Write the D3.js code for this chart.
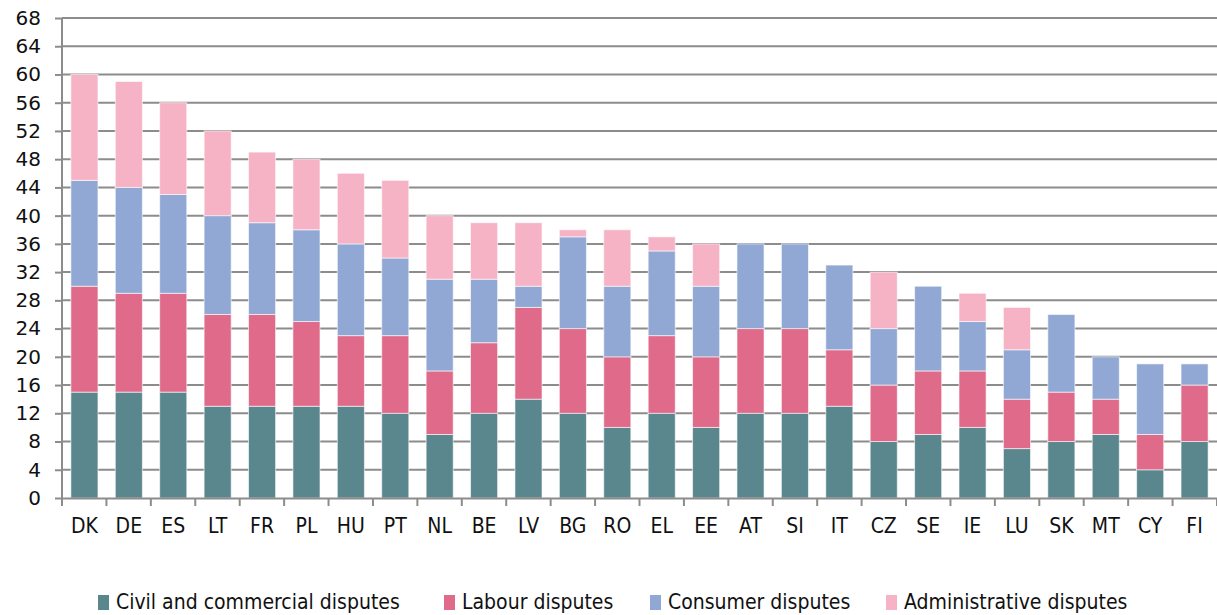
<!DOCTYPE html>
<html>
<head>
<meta charset="utf-8">
<script src="https://cdn.jsdelivr.net/npm/d3@7"></script>
<style>
  body { margin: 0; background: #fff; }
  .tick text { fill: #111; }
  .legend text { font-family: "DejaVu Sans Condensed", "DejaVu Sans", sans-serif; font-size: 21px; fill: #111; }
</style>
</head>
<body>
<div id="chart"></div>
<script>
// data
var countries = ["DK","DE","ES","LT","FR","PL","HU","PT","NL","BE","LV","BG","RO","EL","EE","AT","SI","IT","CZ","SE","IE","LU","SK","MT","CY","FI"];
var civil =          [15,15,15,13,13,13,13,12, 9,12,14,12,10,12,10,12,12,13, 8, 9,10, 7, 8, 9, 4, 8];
var labour =         [15,14,14,13,13,12,10,11, 9,10,13,12,10,11,10,12,12, 8, 8, 9, 8, 7, 7, 5, 5, 8];
var consumer =       [15,15,14,14,13,13,13,11,13, 9, 3,13,10,12,10,12,12,12, 8,12, 7, 7,11, 6,10, 3];
var administrative = [15,15,13,12,10,10,10,11, 9, 8, 9, 1, 8, 2, 6, 0, 0, 0, 8, 0, 4, 6, 0, 0, 0, 0];
var seriesNames = ["Civil and commercial disputes","Labour disputes","Consumer disputes","Administrative disputes"];
var yTicks = d3.range(0, 69, 4);

var svg_w = 1217, svg_h = 615;
var margin = {top: 18, right: 0, bottom: 117, left: 62};
var width = svg_w - margin.left - margin.right;
var height = svg_h - margin.top - margin.bottom;

var rows = countries.map(function(c, i) {
  return {country: c, civil: civil[i], labour: labour[i], consumer: consumer[i], administrative: administrative[i]};
});
var keys = ["civil","labour","consumer","administrative"];
var stacked = d3.stack().keys(keys)(rows);

var svg = d3.select("#chart").append("svg")
  .attr("width", svg_w)
  .attr("height", svg_h);
var g = svg.append("g")
  .attr("transform", "translate(" + margin.left + "," + margin.top + ")");

var xScale = d3.scaleBand().domain(countries).range([0, width]).paddingInner(0.39).paddingOuter(0.2);
var yScale = d3.scaleLinear().domain([0, 68]).range([height, 0]);
var colorScale = d3.scaleOrdinal().domain(keys).range(["#5a878e", "#df6a8a", "#91a8d4", "#f5b3c5"]);

//gridlines
g.append("g")
  .selectAll("line")
  .data(yTicks.slice(1))
  .enter().append("line")
  .attr("x1", 0).attr("x2", width)
  .attr("y1", function(d) { return yScale(d); })
  .attr("y2", function(d) { return yScale(d); })
  .attr("stroke", "#8c8c8c")
  .attr("stroke-width", 2);

//bars
g.selectAll(".layer")
  .data(stacked)
  .enter().append("g")
  .attr("fill", function(d) { return colorScale(d.key); })
  .selectAll("rect")
  .data(function(d) { return d.filter(function(p) { return p[1] > p[0]; }); })
  .enter().append("rect")
  .attr("x", function(d) { return xScale(d.data.country); })
  .attr("y", function(d) { return yScale(d[1]); })
  .attr("width", xScale.bandwidth())
  .attr("height", function(d) { return yScale(d[0]) - yScale(d[1]); })
  .attr("stroke", "#fff")
  .attr("stroke-opacity", 0.6)
  .attr("stroke-width", 1);

//y axis
var yAxis = g.append("g")
  .call(d3.axisLeft(yScale).tickValues(yTicks).tickSize(7).tickPadding(14));
yAxis.selectAll("line").attr("stroke", "#8c8c8c").attr("stroke-width", 2);
yAxis.select(".domain").attr("stroke", "#8c8c8c").attr("stroke-width", 2).attr("d", "M0," + height + "V0");
yAxis.selectAll("text")
  .attr("font-family", "'DejaVu Sans', Verdana, sans-serif")
  .attr("font-size", 20);

//x axis, ticks between categories
var xAxis = g.append("g")
  .attr("transform", "translate(0," + height + ")")
  .call(d3.axisBottom(xScale).tickSize(0).tickPadding(20));
xAxis.select(".domain").attr("stroke", "#8c8c8c").attr("stroke-width", 2);
xAxis.selectAll("text")
  .attr("font-family", "'DejaVu Sans Condensed', 'DejaVu Sans', sans-serif")
  .attr("font-size", 21);
xAxis.selectAll(".sep")
  .data(d3.range(countries.length + 1))
  .enter().append("line")
  .attr("x1", function(i) { return i * width / countries.length; })
  .attr("x2", function(i) { return i * width / countries.length; })
  .attr("y1", 0).attr("y2", 8)
  .attr("stroke", "#8c8c8c").attr("stroke-width", 2);

//legend
var legendX = [98, 444, 650, 886];
var legend = svg.append("g").attr("class", "legend")
  .selectAll("g")
  .data(keys)
  .enter().append("g")
  .attr("transform", function(d, i) { return "translate(" + legendX[i] + "," + 595 + ")"; });
legend.append("rect")
  .attr("width", 11).attr("height", 15)
  .attr("y", 0)
  .attr("fill", function(d) { return colorScale(d); });
legend.append("text")
  .attr("x", 18).attr("y", 14)
  .text(function(d, i) { return seriesNames[i]; });
</script>
</body>
</html>
